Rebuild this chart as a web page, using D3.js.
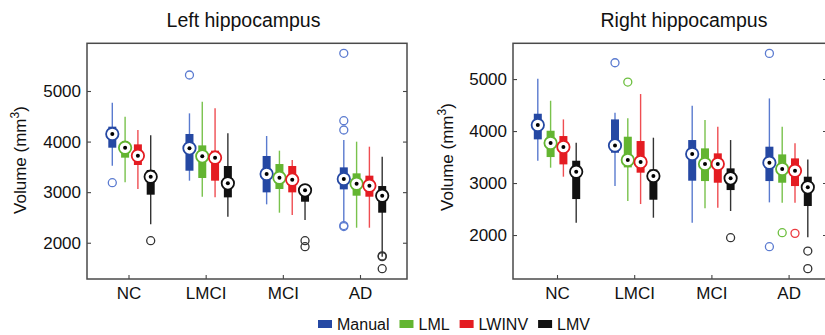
<!DOCTYPE html>
<html>
<head>
<meta charset="utf-8">
<script src="https://cdn.jsdelivr.net/npm/d3@7"></script>
<style>
  html, body { margin: 0; padding: 0; background: #fff; }
  svg { display: block; font-family: "Liberation Sans", Arial, Helvetica, sans-serif; }
</style>
</head>
<body>
<svg id="chart" width="825" height="335"></svg>
<script>
// ---------- DATA ----------
const categories = ["NC", "LMCI", "MCI", "AD"];
const methods = ["Manual", "LML", "LWINV", "LMV"];
const yTicks = [2000, 3000, 4000, 5000];
const yTickLabels = ["2000", "3000", "4000", "5000"];
const panelTitles = ["Left hippocampus", "Right hippocampus"];

// each entry: [lower whisker, Q1, median, Q3, upper whisker]
const leftManual = [[3523, 3879, 4150, 4295, 4769], [3227, 3424, 3866, 4150, 4558], [2759, 2996, 3359, 3715, 4110], [2400, 3055, 3260, 3490, 4031]];
const leftLML    = [[3194, 3682, 3879, 3985, 4492], [2910, 3280, 3708, 3925, 4789], [2594, 3062, 3286, 3556, 3820], [2297, 2930, 3167, 3372, 3998]];
const leftLWINV  = [[3062, 3537, 3721, 3945, 4229], [2897, 3227, 3682, 3820, 4657], [2548, 2996, 3247, 3517, 3635], [2297, 2910, 3128, 3326, 3899]];
const leftLMV    = [[2363, 2950, 3306, 3438, 4123], [2515, 2897, 3174, 3517, 4163], [2449, 2811, 3036, 3108, 3150], [1724, 2594, 2930, 3121, 3701]];

const leftOutManual = [[3187], [5316], [], [5745, 4413, 4229, 2340, 2320]];
const leftOutLML    = [[], [], [], []];
const leftOutLWINV  = [[], [], [], []];
const leftOutLMV    = [[2040], [], [2040, 1922], [1740, 1725, 1487]];

const rightManual = [[3429, 3840, 4115, 4333, 5006], [2942, 3583, 3724, 4224, 4353], [2237, 3045, 3558, 3827, 4487], [2628, 3038, 3391, 3699, 4628]];
const rightLML    = [[3295, 3500, 3769, 4006, 4583], [2654, 3301, 3442, 3891, 4244], [2513, 3038, 3365, 3667, 4212], [2622, 3006, 3269, 3551, 4083]];
const rightLWINV  = [[3122, 3359, 3692, 3904, 4224], [2596, 3199, 3404, 3808, 4712], [2526, 3006, 3365, 3571, 4083], [2622, 2942, 3237, 3474, 3763]];
const rightLMV    = [[2237, 2692, 3218, 3429, 3776], [2333, 2679, 3135, 3260, 3872], [2462, 2865, 3090, 3282, 3827], [1955, 2558, 2917, 3122, 3455]];

const rightOutManual = [[], [5314], [], [5494, 1776]];
const rightOutLML    = [[], [4942], [], [2045]];
const rightOutLWINV  = [[], [], [], [2032]];
const rightOutLMV    = [[], [], [1949], [1692, 1353]];

// ---------- STYLE ----------
const boxColors = ["#2548a3", "#63b531", "#e41c22", "#111111"];
const lineColors = ["#5a7bcf", "#79c24c", "#ef4d52", "#333333"];
const outColors = ["#5b7bd0", "#6dbf3f", "#ec3a40", "#333333"];
const FONT = '"Liberation Sans", Arial, Helvetica, sans-serif';

const svg = d3.select("#chart");

const panels = [
  {
    title: panelTitles[0], titleX: 243.5,
    stats: [leftManual, leftLML, leftLWINV, leftLMV],
    outs: [leftOutManual, leftOutLML, leftOutLWINV, leftOutLMV],
    frame: [87, 407], yDomain: [1283, 5943],
    xRange: [128.5, 360], offsets: [-16.2, -3.4, 9.4, 22.2],
    ylabelX: 20, ylabelY: 160
  },
  {
    title: panelTitles[1], titleX: 684,
    stats: [rightManual, rightLML, rightLWINV, rightLMV],
    outs: [rightOutManual, rightOutLML, rightOutLWINV, rightOutLMV],
    frame: [513, 827], yDomain: [1154, 5688],
    xRange: [557, 788.6], offsets: [-19.2, -6.4, 6.4, 19.2],
    ylabelX: 447, ylabelY: 157
  }
];

const plotTop = 43.3, plotBottom = 279;

panels.forEach(p => {
  const g = svg.append("g");
  const x = d3.scaleLinear().domain([1, 4]).range(p.xRange);
  const y = d3.scaleLinear().domain(p.yDomain).range([plotBottom, plotTop]);
  const [fl, fr] = p.frame;

  // title
  g.append("text").attr("x", p.titleX).attr("y", 27)
    .attr("text-anchor", "middle").attr("font-size", 19.5).attr("fill", "#111")
    .text(p.title);

  // y label
  const yl = g.append("text")
    .attr("transform", `translate(${p.ylabelX + 6},${p.ylabelY}) rotate(-90)`)
    .attr("text-anchor", "middle").attr("font-size", 17).attr("fill", "#111");
  yl.append("tspan").text("Volume (mm");
  yl.append("tspan").attr("dy", -7).attr("font-size", 12).text("3");
  yl.append("tspan").attr("dy", 7).text(")");

  // axes
  const yAxisL = d3.axisLeft(y).tickValues(yTicks).tickFormat((d, i) => yTickLabels[i])
    .tickSizeInner(-4).tickSizeOuter(0).tickPadding(6);
  const gy = g.append("g").attr("transform", `translate(${fl},0)`).call(yAxisL);
  const yAxisR = d3.axisRight(y).tickValues(yTicks).tickSizeInner(-4).tickSizeOuter(0).tickFormat("");
  const gyr = g.append("g").attr("transform", `translate(${fr},0)`).call(yAxisR);
  const xAxis = d3.axisBottom(x).tickValues([1, 2, 3, 4]).tickFormat((d, i) => categories[i])
    .tickSizeInner(-4).tickSizeOuter(0).tickPadding(8);
  const gx = g.append("g").attr("transform", `translate(0,${plotBottom})`).call(xAxis);
  [gy, gyr, gx].forEach(a => {
    a.select(".domain").remove();
    a.selectAll(".tick line").attr("stroke", "#444").attr("stroke-width", 1.1);
    a.selectAll("text").attr("font-size", 17).attr("fill", "#111").attr("font-family", FONT);
  });

  // frame
  g.append("rect").attr("x", fl).attr("y", plotTop).attr("width", fr - fl).attr("height", plotBottom - plotTop)
    .attr("fill", "none").attr("stroke", "#4a4a4a").attr("stroke-width", 1.5);

  // boxes
  methods.forEach((m, mi) => {
    const mg = g.append("g").attr("class", "method-" + m);
    p.stats[mi].forEach((s, ci) => {
      const cx = x(ci + 1) + p.offsets[mi];
      const [wlo, q1, med, q3, whi] = s;
      mg.append("line").attr("x1", cx).attr("x2", cx).attr("y1", y(wlo)).attr("y2", y(whi))
        .attr("stroke", lineColors[mi]).attr("stroke-width", 1.4);
      mg.append("rect").attr("x", cx - 4).attr("width", 8)
        .attr("y", y(q3)).attr("height", y(q1) - y(q3)).attr("fill", boxColors[mi]);
      mg.append("circle").attr("cx", cx).attr("cy", y(med)).attr("r", 6.2)
        .attr("fill", "#fff").attr("stroke", boxColors[mi]).attr("stroke-width", 1.8);
      mg.append("circle").attr("cx", cx).attr("cy", y(med)).attr("r", 2)
        .attr("fill", "#000");
      p.outs[mi][ci].forEach(v => {
        mg.append("circle").attr("cx", cx).attr("cy", y(v)).attr("r", 4)
          .attr("fill", "none").attr("stroke", outColors[mi]).attr("stroke-width", 1.3);
      });
    });
  });
});

// legend
const lg = svg.append("g");
let lx = 318;
methods.forEach((m, i) => {
  lg.append("rect").attr("x", lx).attr("y", 320).attr("width", 14).attr("height", 8).attr("fill", boxColors[i]);
  const t = lg.append("text").attr("x", lx + 19).attr("y", 330).attr("font-size", 16).attr("fill", "#111").text(m);
  lx = lx + 19 + t.node().getComputedTextLength() + 10;
});
</script>
</body>
</html>
